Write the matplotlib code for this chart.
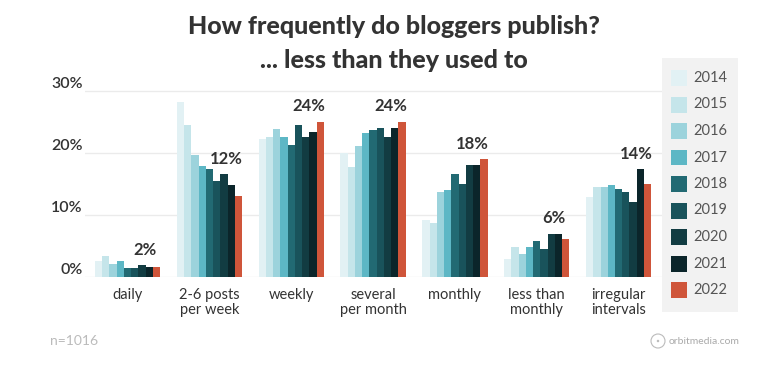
import matplotlib
matplotlib.use("Agg")
import matplotlib.pyplot as plt
from matplotlib.patches import Rectangle, Ellipse
import numpy as np

categories = ["daily", "2-6 posts\nper week", "weekly", "several\nper month",
              "monthly", "less than\nmonthly", "irregular\nintervals"]
years = ["2014", "2015", "2016", "2017", "2018", "2019", "2020", "2021", "2022"]
values = {
    "2014": [2.5, 28.1, 22.2, 20.0, 9.1, 2.8, 12.9],
    "2015": [3.3, 24.5, 22.5, 17.6, 8.6, 4.8, 14.5],
    "2016": [2.0, 19.6, 23.8, 21.0, 13.6, 3.7, 14.5],
    "2017": [2.5, 17.8, 22.5, 23.1, 13.9, 4.8, 14.7],
    "2018": [1.4, 17.3, 21.3, 23.6, 16.5, 5.7, 14.2],
    "2019": [1.4, 15.5, 24.4, 24.0, 15.0, 4.4, 13.6],
    "2020": [1.8, 16.5, 22.5, 22.5, 18.0, 6.9, 12.1],
    "2021": [1.5, 14.8, 23.4, 24.0, 18.0, 6.9, 17.3],
    "2022": [1.5, 13.0, 25.0, 25.0, 18.9, 6.0, 15.0],
}
labels_2022 = ["2%", "12%", "24%", "24%", "18%", "6%", "14%"]
yticks = [0, 10, 20, 30]
ytick_labels = ["0%", "10%", "20%", "30%"]
colors = ["#e2f1f4", "#c5e5ea", "#9cd3dc", "#5db7c5", "#226a73",
          "#19535b", "#123c42", "#0b252a", "#cf553a"]

plt.rcParams['font.family'] = ['Lato', 'DejaVu Sans']
W, H = 771, 384
fig = plt.figure(figsize=(W / 100, H / 100), dpi=100)

ax_left = 85 / W
ax_w = (662 - 85) / W
ymax = 30.3
ax_bottom = (H - 276.5) / H
ax_h = (276.5 - 90.7) / H * ymax / 30
ax = fig.add_axes([ax_left, ax_bottom, ax_w, ax_h])

x = np.arange(len(categories))
bw = 0.0885
n = len(years)
for i, y in enumerate(years):
    ax.bar(x + (i - (n - 1) / 2) * bw, values[y], width=bw, color=colors[i],
           linewidth=0, zorder=2)

for j in range(len(categories)):
    top = max(values["2020"][j], values["2021"][j], values["2022"][j])
    ax.text(x[j] + 2.4 * bw, top + 1.2, labels_2022[j], ha="center", va="bottom",
            fontsize=12, fontweight="bold", color="#333333")

ax.set_xlim(-0.52, 6.53)
ax.set_ylim(0, ymax)
for t in yticks:
    ax.axhline(t, color="#ebebeb", linewidth=1, zorder=1)
ax.set_yticks([])
ax.set_xticks([])
for s in ax.spines.values():
    s.set_visible(False)

for t, lab in zip(yticks, ytick_labels):
    ax.text(-0.55, t, lab, ha="right", va="bottom", fontsize=11.5,
            fontweight="semibold", color="#333333", transform=ax.transData)

for j, c in enumerate(categories):
    ax.text(x[j], -1.8, c, ha="center", va="top", fontsize=10.5,
            color="#333333", linespacing=1.15)

fig.text(394 / W, 1 - 27 / H, "How frequently do bloggers publish?", ha="center",
         va="center", fontsize=18, fontweight="black", color="#333333")
fig.text(394 / W, 1 - 60 / H, "... less than they used to", ha="center",
         va="center", fontsize=18, fontweight="black", color="#333333")

# legend
fig.patches.append(Rectangle((662 / W, 1 - 312 / H), 76 / W, (312 - 58) / H,
                             transform=fig.transFigure, facecolor="#f2f2f2",
                             edgecolor="none"))
for i, y in enumerate(years):
    cy = 78 + i * 26.5
    fig.patches.append(Rectangle((671 / W, 1 - (cy + 8) / H), 16 / W, 16 / H,
                                 transform=fig.transFigure, facecolor=colors[i],
                                 edgecolor="none"))
    fig.text(693 / W, 1 - cy / H, y, ha="left", va="center", fontsize=10.5,
             color="#555555")

fig.text(50 / W, 1 - 341 / H, "n=1016", ha="left", va="center", fontsize=10,
         color="#bbbbbb")
fig.patches.append(Ellipse((658 / W, 1 - 341 / H), 14 / W, 14 / H,
                           transform=fig.transFigure, facecolor="none",
                           edgecolor="#bbbbbb", linewidth=0.8))
fig.patches.append(Ellipse((658 / W, 1 - 341 / H), 2.5 / W, 2.5 / H,
                           transform=fig.transFigure, facecolor="#bbbbbb",
                           edgecolor="none"))
fig.text(669 / W, 1 - 341 / H, "orbitmedia.com", ha="left", va="center",
         fontsize=7.5, color="#aaaaaa")

fig.savefig("out.png", dpi=100)
